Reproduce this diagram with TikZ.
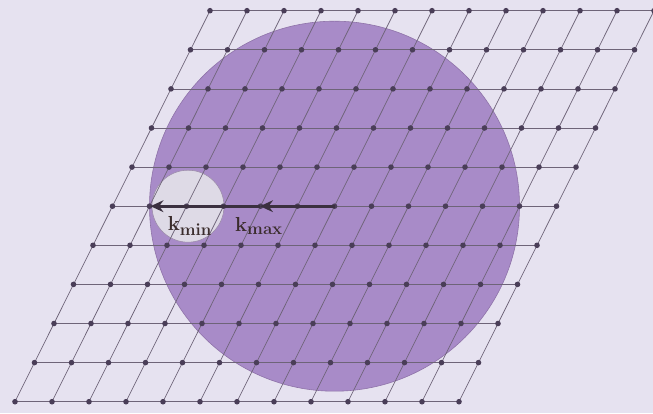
\documentclass[tikz,border=0pt]{standalone}
\usepackage{amsmath,amssymb}
\usetikzlibrary{arrows.meta, positioning, calc}
\definecolor{pagebg}{HTML}{E6E2F0}
\definecolor{kball}{HTML}{A88BC8}
\definecolor{kedge}{HTML}{8E72A8}
\definecolor{holefill}{HTML}{DEDAE6}
\definecolor{holeedge}{HTML}{9C8CAA}
\definecolor{gridline}{HTML}{6E6478}
\definecolor{gridpt}{HTML}{4A3E58}
\definecolor{karrow}{HTML}{3B3040}
\definecolor{klab}{HTML}{3A2C2C}
\tikzset{
  >=Stealth,
  latt/.style={draw=gridline, line width=0.6pt},
  latpt/.style={fill=gridpt},
  ball/.style={fill=kball, draw=kedge, line width=0.5pt},
  hole/.style={fill=holefill, draw=holeedge, line width=0.5pt},
  kvec/.style={draw=karrow, line width=2.4pt, -{Stealth[length=11pt,width=10pt]}},
  klabel/.style={text=klab, font=\fontsize{19}{19}\selectfont, inner sep=0pt}
}

\begin{document}
\begin{tikzpicture}[x=0.03cm, y=0.03cm]
  \useasboundingbox (0,0) rectangle (653,413);
  \clip (0,0) rectangle (653,413);
  \fill[pagebg] (0,0) rectangle (653,413);
  % reciprocal lattice points
  \foreach \i in {0,...,12}
    \foreach \j in {0,...,10}
      \coordinate (p-\i-\j) at (15+37*\i+19.5*\j, 11.3+39.1*\j);
  \coordinate (o) at (p-6-5);
  % cutoff spheres
  \fill[ball] (o) circle (185);
  \fill[hole] ($(o)+(-146.5,0)$) circle (36);
  % lattice
  \foreach \j in {0,...,10}
    \draw[latt] (p-0-\j) -- (p-12-\j);
  \foreach \i in {0,...,12}
    \draw[latt] (p-\i-0) -- (p-\i-10);
  \foreach \i in {0,...,12}
    \foreach \j in {0,...,10}
      \fill[latpt] (p-\i-\j) circle (2.8);
  % wave vectors
  \coordinate (kmx) at ($(o)+(-74.5,0)$);
  \coordinate (kmn) at ($(o)+(-184,0)$);
  \draw[kvec] (o) -- (kmx);
  \draw[kvec] (kmx) -- (kmn);
  \node[klabel] (lmin) at (190,187) {$\mathbf{k}_{\mathbf{min}}$};
  \node[klabel] (lmax) at (259,187) {$\mathbf{k}_{\mathbf{max}}$};
\end{tikzpicture}
\end{document}
